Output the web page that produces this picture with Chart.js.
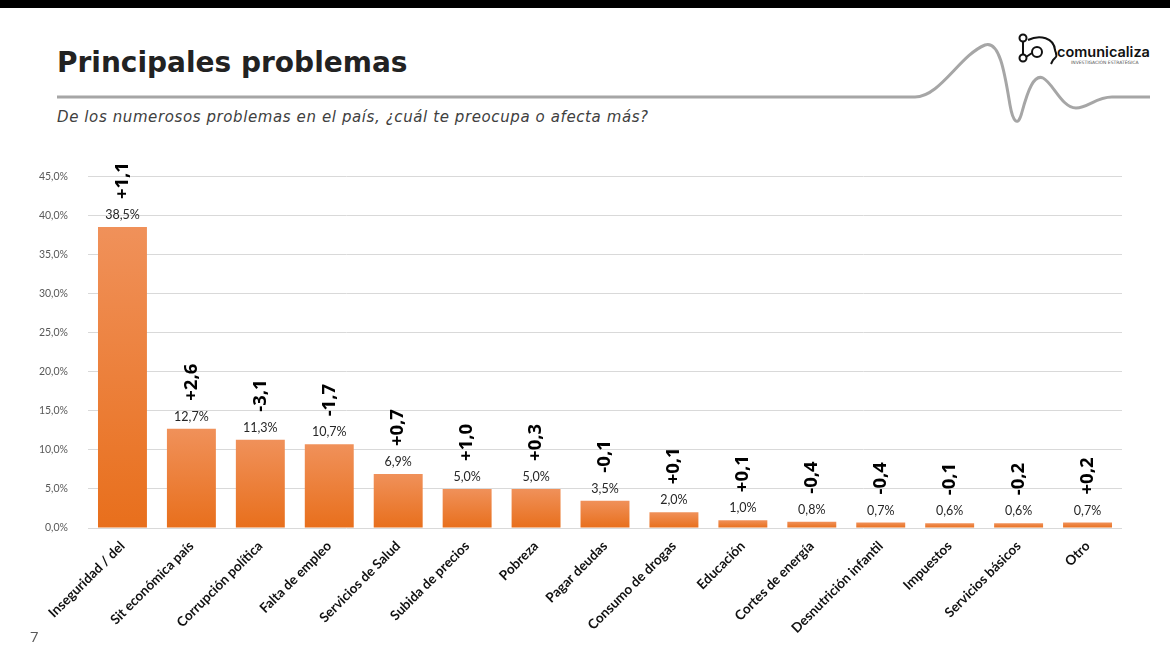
<!DOCTYPE html>
<html>
<head>
<meta charset="utf-8">
<script src="https://cdn.jsdelivr.net/npm/chart.js@4"></script>
<style>
  html, body { margin: 0; padding: 0; background: #fff; }
  #page { position: relative; width: 1170px; height: 645px; overflow: hidden; }
  #topbar { position: absolute; left: 0; top: 0; width: 1170px; height: 8px; background: #000; }
  #title { position: absolute; left: 57px; top: 46px; font-family: "DejaVu Sans", sans-serif; font-weight: bold; font-size: 28px; color: #222; }
  #subtitle { position: absolute; left: 57px; top: 108px; font-family: "DejaVu Sans", sans-serif; font-style: italic; font-size: 15px; color: #404040; letter-spacing: 0.6px; }
  #deco { position: absolute; left: 0; top: 0; }
  #pagenum { position: absolute; left: 30px; top: 626px; font-family: "Open Sans", sans-serif; font-size: 15px; color: #595959; }
  #chartbox { position: absolute; left: 0; top: 150px; width: 1170px; height: 495px; }
</style>
</head>
<body>
<div id="page">
  <div id="topbar"></div>
  <svg id="deco" width="1170" height="140">
    <path d="M57,97 L915,97 C940,97 960,55 985,45 C1000,40 1005,75 1010,105 C1013,122 1018,128 1022,112 C1028,90 1034,74 1043,78 C1053,83 1062,108 1076,108 C1088,108 1096,97 1112,97 L1150,97"
          fill="none" stroke="#A6A6A6" stroke-width="3" stroke-linejoin="round"/>
    <g fill="none" stroke="#111" stroke-width="2">
      <circle cx="1023" cy="38" r="3.5"/>
      <circle cx="1023" cy="58" r="3.5"/>
      <circle cx="1037" cy="52" r="5"/>
      <path d="M1023,42 L1023,54 M1026,57 L1032,53"/>
      <path d="M1028,40 C1040,34 1054,38 1055,50 C1056,54 1058,56 1055,58 L1053,60 L1051,64"/>
    </g>
    <text x="1057" y="57" font-family="Inter, sans-serif" font-weight="600" font-size="14.5" fill="#111">comunicaliza</text>
    <text x="1071" y="64" font-family="DejaVu Sans, sans-serif" font-size="4.5" fill="#555">INVESTIGACIÓN ESTRATÉGICA</text>
  </svg>
  <div id="title">Principales problemas</div>
  <div id="subtitle">De los numerosos problemas en el país, ¿cuál te preocupa o afecta más?</div>
  <div id="chartbox"><canvas id="chart"></canvas></div>
  <div id="pagenum">7</div>
</div>
<script>
const categories = ["Inseguridad / del", "Sit económica país", "Corrupción política", "Falta de empleo",
  "Servicios de Salud", "Subida de precios", "Pobreza", "Pagar deudas", "Consumo de drogas",
  "Educación", "Cortes de energía", "Desnutrición infantil", "Impuestos", "Servicios básicos", "Otro"];
const values = [38.5, 12.7, 11.3, 10.7, 6.9, 5.0, 5.0, 3.5, 2.0, 1.0, 0.8, 0.7, 0.6, 0.6, 0.7];
const changes = ["+1,1", "+2,6", "-3,1", "-1,7", "+0,7", "+1,0", "+0,3", "-0,1", "+0,1", "+0,1",
  "-0,4", "-0,4", "-0,1", "-0,2", "+0,2"];
const yTicks = [0, 5, 10, 15, 20, 25, 30, 35, 40, 45];

const fmt = v => v.toFixed(1).replace(".", ",") + "%";

// gradient per bar, light at top, darker at the base
function barGradient(ctx) {
  const chart = ctx.chart;
  const area = chart.chartArea;
  if (!area || ctx.type !== "data") return "#EE7A2E";
  const y = chart.scales.y;
  const top = y.getPixelForValue(values[ctx.dataIndex]);
  const bottom = y.getPixelForValue(0);
  const g = chart.ctx.createLinearGradient(0, top, 0, bottom);
  g.addColorStop(0, "#F0915A");
  g.addColorStop(1, "#E86F1C");
  return g;
}

const barLabels = {
  id: "barLabels",
  afterDatasetsDraw(chart) {
    const ctx = chart.ctx;
    const meta = chart.getDatasetMeta(0);
    meta.data.forEach((bar, i) => {
      const x = bar.x, top = bar.y;
      ctx.save();
      ctx.fillStyle = "#262626";
      ctx.font = "12.5px Lato, sans-serif";
      ctx.textAlign = "center";
      ctx.textBaseline = "alphabetic";
      ctx.fillText(fmt(values[i]), x, top - 8);
      ctx.translate(x, top - 28);
      ctx.rotate(-Math.PI / 2);
      ctx.fillStyle = "#000";
      ctx.font = "bold 18.5px 'Open Sans', sans-serif";
      ctx.textAlign = "left";
      ctx.textBaseline = "middle";
      ctx.fillText(changes[i], 0, 0);
      ctx.restore();
    });
  }
};

new Chart(document.getElementById("chart"), {
  type: "bar",
  data: {
    labels: categories,
    datasets: [{
      data: values,
      backgroundColor: barGradient,
      categoryPercentage: 1.0,
      barPercentage: 0.71
    }]
  },
  options: {
    responsive: true,
    maintainAspectRatio: false,
    animation: false,
    layout: { padding: { top: 24, right: 48, left: 0, bottom: 0 } },
    plugins: { legend: { display: false }, tooltip: { enabled: false } },
    scales: {
      x: {
        grid: { display: false },
        border: { display: false },
        ticks: {
          color: "#111",
          font: { family: "Lato, sans-serif", size: 13.5, weight: "bold" },
          maxRotation: 45, minRotation: 45, padding: 2, autoSkip: false
        },
        afterFit(scale) { scale.height = 117; }
      },
      y: {
        min: 0, max: 45,
        afterBuildTicks(scale) { scale.ticks = yTicks.map(v => ({ value: v })); },
        grid: { color: "#D9D9D9", lineWidth: 1, drawTicks: false },
        border: { display: false },
        ticks: {
          color: "#595959",
          font: { family: "Lato, sans-serif", size: 10.5 },
          padding: 20,
          callback: v => fmt(v)
        },
        afterFit(scale) { scale.width = 88; }
      }
    }
  },
  plugins: [barLabels]
});
</script>
</body>
</html>
